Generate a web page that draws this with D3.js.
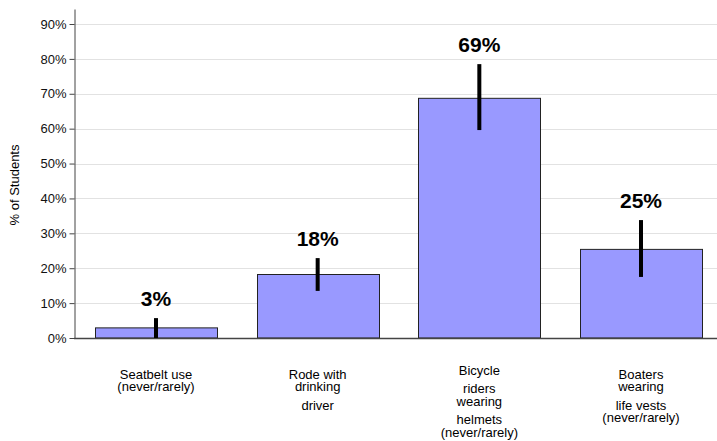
<!DOCTYPE html>
<html><head><meta charset="utf-8">
<script src="https://cdn.jsdelivr.net/npm/d3@7"></script>
<style>body{margin:0;background:#fff}svg{display:block;font-family:"Liberation Sans",Arial,sans-serif}</style>
</head><body><svg id="c" width="717" height="441"></svg>
<script>
const categories = ["Seatbelt", "Rode", "Bicycle", "Boaters"];
const labelGroups = [
  [["Seatbelt use", "(never/rarely)"]],
  [["Rode with", "drinking"], ["driver"]],
  [["Bicycle"], ["riders", "wearing"], ["helmets", "(never/rarely)"]],
  [["Boaters", "wearing"], ["life vests", "(never/rarely)"]]
];
const values = [2.9, 18.2, 68.7, 25.4];
const errLow = [0, 13.5, 59.6, 17.5];
const errHigh = [5.7, 22.9, 78.5, 33.8];
const valueLabels = ["3%", "18%", "69%", "25%"];
const yTicks = [0, 10, 20, 30, 40, 50, 60, 70, 80, 90];
const yTitle = "% of Students";

const svg = d3.select("#c");
const mLeft = 74, mRight = 723, mTop = 9, mBottom = 338;
const y = d3.scaleLinear().domain([0, 94.3]).range([mBottom, mTop]);
const x = d3.scaleBand().domain(categories).range([mLeft, mRight]).paddingInner(0.2455).paddingOuter(0.13);

// gridlines
svg.append("g").selectAll("line").data(yTicks.slice(1)).join("line")
  .attr("x1", mLeft).attr("x2", 717).attr("y1", d => Math.round(y(d)) + 0.5).attr("y2", d => Math.round(y(d)) + 0.5)
  .attr("stroke", "#e2e2e2").attr("stroke-width", 1);

// y axis
const yAxis = d3.axisLeft(y).tickValues(yTicks).tickFormat(d => d + "%").tickSize(5).tickSizeOuter(0);
const ga = svg.append("g").attr("transform", `translate(${mLeft + 0.5},0)`).call(yAxis);
ga.select(".domain").attr("stroke", "#444");
ga.selectAll(".tick line").attr("stroke", "#444");
ga.selectAll(".tick text").attr("font-size", 13).attr("fill", "#111").attr("font-family", "Liberation Sans, Arial, sans-serif").attr("x", -8);

// bars
svg.append("g").selectAll("rect").data(values).join("rect")
  .attr("x", (d, i) => Math.round(x(categories[i])) + 0.5)
  .attr("width", Math.round(x.bandwidth()))
  .attr("y", d => y(d))
  .attr("height", d => mBottom - y(d))
  .attr("fill", "#9999ff").attr("stroke", "#222").attr("stroke-width", 1);

// x baseline
svg.append("line").attr("x1", mLeft).attr("x2", 717).attr("y1", mBottom + 0.5).attr("y2", mBottom + 0.5)
  .attr("stroke", "#444").attr("stroke-width", 1.5);

// error bars
svg.append("g").selectAll("line").data(values).join("line")
  .attr("x1", (d, i) => x(categories[i]) + x.bandwidth() / 2)
  .attr("x2", (d, i) => x(categories[i]) + x.bandwidth() / 2)
  .attr("y1", (d, i) => y(errLow[i])).attr("y2", (d, i) => y(errHigh[i]))
  .attr("stroke", "#000").attr("stroke-width", 4);

// value labels
svg.append("g").selectAll("text").data(valueLabels).join("text")
  .attr("x", (d, i) => x(categories[i]) + x.bandwidth() / 2)
  .attr("y", (d, i) => y(errHigh[i]) - 12)
  .attr("text-anchor", "middle").attr("font-size", 21).attr("font-weight", "bold").attr("fill", "#000")
  .text(d => d);

// category labels
labelGroups.forEach((groups, i) => {
  const cx = x(categories[i]) + x.bandwidth() / 2;
  const lines = [];
  let yy = 0;
  groups.forEach((g, gi) => {
    if (gi > 0) yy += 18.5;
    g.forEach((l, li) => { if (li > 0) yy += 12.5; lines.push({t: l, y: yy}); });
  });
  const start = Math.min(374, 432 - yy);
  svg.append("g").selectAll("text").data(lines).join("text")
    .attr("x", cx).attr("y", d => start + d.y + 4.5)
    .attr("text-anchor", "middle").attr("font-size", 13).attr("fill", "#000")
    .text(d => d.t);
});

// y title
svg.append("text").attr("transform", "translate(19,185) rotate(-90)")
  .attr("text-anchor", "middle").attr("font-size", 13).attr("fill", "#000").text(yTitle);
</script></body></html>
